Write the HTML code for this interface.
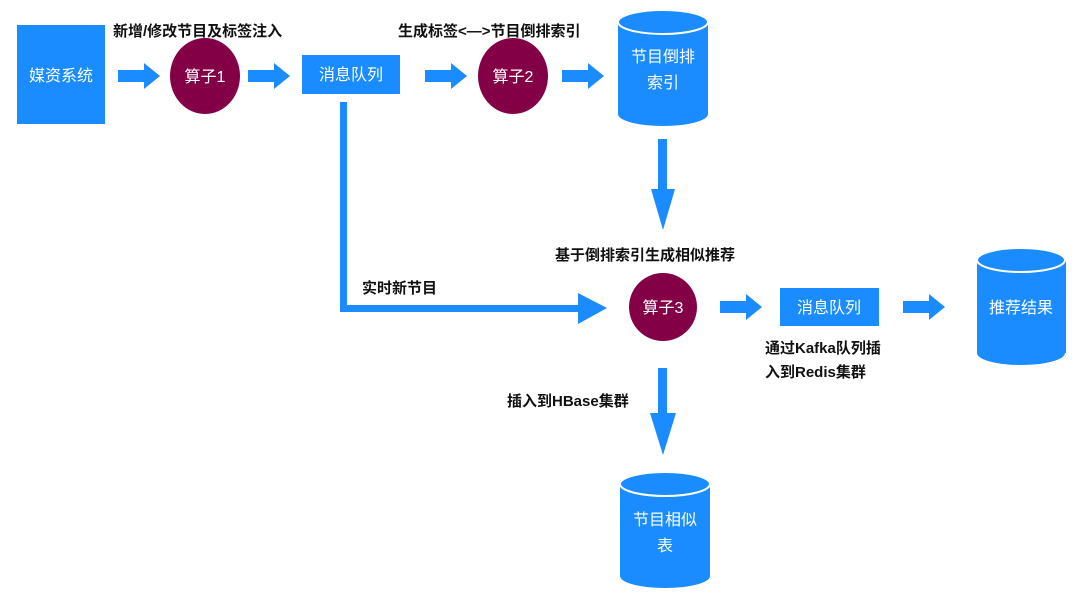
<!DOCTYPE html>
<html><head><meta charset="utf-8"><style>
html,body{margin:0;padding:0;background:#fff;}
svg{display:block;}
text{font-family:"Liberation Sans","Noto Sans CJK SC",sans-serif;}
.l{font-size:15px;font-weight:bold;fill:#111;}
.w{font-size:16px;fill:#fff;text-anchor:middle;}
</style></head><body>
<svg width="1080" height="599" viewBox="0 0 1080 599" xmlns="http://www.w3.org/2000/svg">
<defs>
<g id="ar"><rect x="0" y="-6" width="28" height="12" fill="#1a8cff"/><polygon points="26,-13 42,0 26,13" fill="#1a8cff"/></g>
</defs>
<!-- top row -->
<rect x="17" y="25" width="88" height="99" fill="#1a8cff"/>
<text class="w" x="61" y="81">媒资系统</text>
<use href="#ar" x="118" y="76"/>
<ellipse cx="205" cy="76" rx="35" ry="38" fill="#830046"/>
<text class="w" x="205" y="82">算子1</text>
<use href="#ar" x="248" y="76"/>
<rect x="302" y="55" width="98" height="39" fill="#1a8cff"/>
<text class="w" x="351" y="80">消息队列</text>
<use href="#ar" x="425" y="76"/>
<ellipse cx="513" cy="76" rx="35" ry="38" fill="#830046"/>
<text class="w" x="513" y="82">算子2</text>
<use href="#ar" x="562" y="76"/>
<!-- cylinder 1 -->
<rect x="618" y="22" width="90" height="92" fill="#1a8cff"/>
<ellipse cx="663" cy="114" rx="45" ry="12" fill="#1a8cff"/>
<ellipse cx="663" cy="22" rx="45" ry="12" fill="#1a8cff" stroke="#fff" stroke-width="2"/>
<text class="w" x="663" y="62">节目倒排</text>
<text class="w" x="663" y="88">索引</text>
<text class="l" x="113" y="36">新增/修改节目及标签注入</text>
<text class="l" x="398" y="36">生成标签&lt;—&gt;节目倒排索引</text>
<!-- L connector -->
<rect x="340" y="102" width="7" height="210" fill="#1a8cff"/>
<rect x="340" y="305" width="240" height="7" fill="#1a8cff"/>
<polygon points="578,293 607,308 578,324" fill="#1a8cff"/>
<text class="l" x="362" y="293">实时新节目</text>
<!-- down arrow -->
<rect x="658" y="139" width="9" height="50" fill="#1a8cff"/>
<polygon points="651,189 675,189 663,230" fill="#1a8cff"/>
<text class="l" x="555" y="260">基于倒排索引生成相似推荐</text>
<ellipse cx="663" cy="307" rx="34" ry="34" fill="#830046"/>
<text class="w" x="663" y="313">算子3</text>
<use href="#ar" x="720" y="307"/>
<rect x="780" y="288" width="99" height="38" fill="#1a8cff"/>
<text class="w" x="829" y="313">消息队列</text>
<use href="#ar" x="903" y="307"/>
<text class="l" x="765" y="353">通过Kafka队列插</text>
<text class="l" x="765" y="377">入到Redis集群</text>
<!-- cylinder 2 -->
<rect x="977" y="260" width="89" height="93" fill="#1a8cff"/>
<ellipse cx="1021" cy="353" rx="44" ry="12" fill="#1a8cff"/>
<ellipse cx="1021" cy="260" rx="44" ry="12" fill="#1a8cff" stroke="#fff" stroke-width="2"/>
<text class="w" x="1021" y="313">推荐结果</text>
<!-- down arrow 2 -->
<rect x="658" y="368" width="9" height="47" fill="#1a8cff"/>
<polygon points="650,413 676,413 663,455" fill="#1a8cff"/>
<text class="l" x="507" y="406">插入到HBase集群</text>
<!-- cylinder 3 -->
<rect x="620" y="484" width="90" height="92" fill="#1a8cff"/>
<ellipse cx="665" cy="576" rx="45" ry="12" fill="#1a8cff"/>
<ellipse cx="665" cy="484" rx="45" ry="12" fill="#1a8cff" stroke="#fff" stroke-width="2"/>
<text class="w" x="665" y="525">节目相似</text>
<text class="w" x="665" y="551">表</text>
</svg>
</body></html>
